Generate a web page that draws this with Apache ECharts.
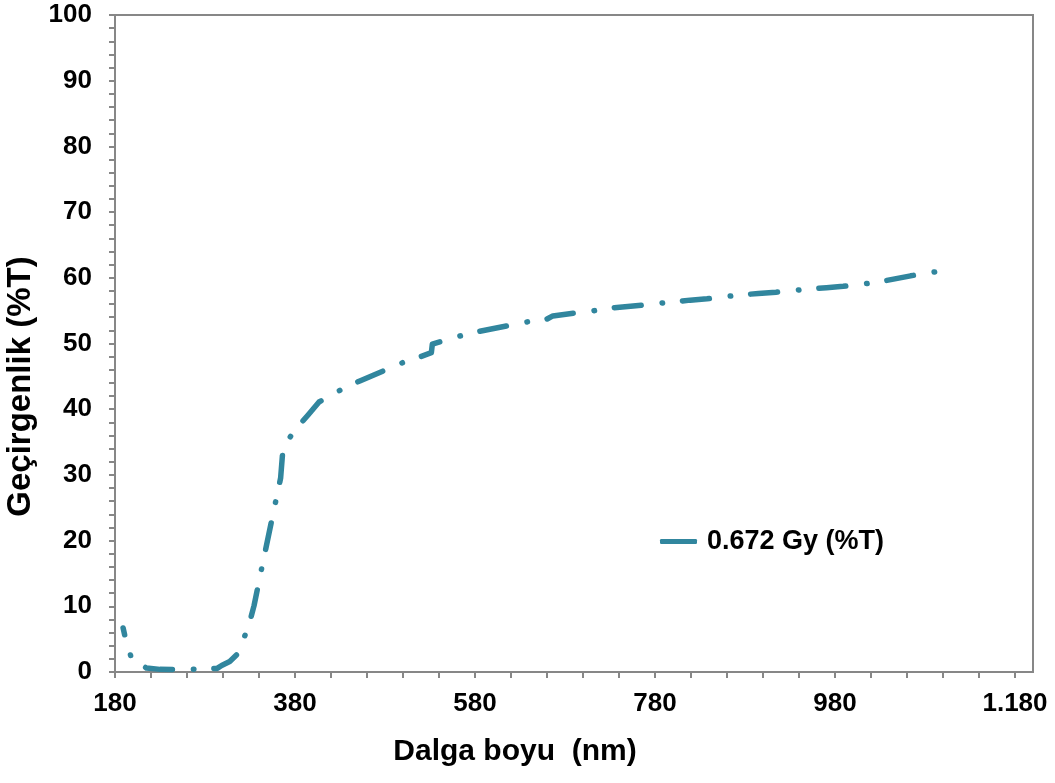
<!DOCTYPE html>
<html>
<head>
<meta charset="utf-8">
<script src="https://cdn.jsdelivr.net/npm/echarts@6/dist/echarts.min.js"></script>
<style>
html,body{margin:0;padding:0;background:#fff;}
#c{width:1055px;height:783px;}
</style>
</head>
<body>
<div id="c"></div>
<script>
// Wavelength (nm)
const wavelength = [189, 192, 198.5, 215, 230, 253, 273, 293.5, 298.5, 307.5, 315, 320.5, 328.5, 334.5, 343, 354, 364, 365.7, 366.8, 381.7, 395, 406.7, 437, 452, 484.5, 501.5, 519.5, 531.5, 532.6, 546.3, 564.8, 583.2, 619.5, 638.7, 658.4, 666.5, 694.2, 712.7, 732.4, 799, 819, 837.8, 874.8, 894.8, 914.4, 950.6, 970.6, 989.1, 1026, 1045, 1064, 1100];
// Transmittance (%T)
const transmittance = [6.7, 4.9, 2.0, 0.6, 0.4, 0.35, 0.45, 0.55, 1.0, 1.6, 2.6, 4.2, 7.0, 10.1, 15.8, 23.0, 29.5, 32.4, 34.3, 37.1, 39.2, 41.1, 43.4, 44.3, 46.2, 47.2, 48.0, 48.6, 49.9, 50.5, 51.2, 51.8, 52.8, 53.3, 53.6, 54.2, 54.7, 55.0, 55.4, 56.3, 56.6, 56.8, 57.4, 57.6, 57.8, 58.3, 58.5, 58.7, 59.3, 59.8, 60.3, 61.1];
const seriesName = '0.672 Gy (%T)';
const xLabelValues = [180, 380, 580, 780, 980, 1180];
const xTickValues = [180, 220, 260, 300, 340, 380, 420, 460, 500, 540, 580, 620, 660, 700, 740, 780, 820, 860, 900, 940, 980, 1020, 1060, 1100, 1140, 1180];
const xTitle = 'Dalga boyu  (nm)';
const yTitle = 'Geçirgenlik (%T)';

const color = '#31869E';
const axisGray = '#878787';
const font = 'Liberation Sans, Arial, sans-serif';

const chart = echarts.init(document.getElementById('c'), null, {renderer: 'canvas'});
chart.setOption({
  animation: false,
  backgroundColor: '#fff',
  grid: {left: 115, top: 15, width: 918, height: 657, outerBoundsMode: 'none', containLabel: false,
    show: true, borderColor: axisGray, borderWidth: 2, backgroundColor: 'transparent'},
  legend: {
    data: [seriesName],
    left: 655, top: 523,
    icon: 'roundRect', itemWidth: 37, itemHeight: 5,
    textStyle: {fontFamily: font, fontWeight: 'bold', fontSize: 27, color: '#000', padding: [0, 0, 0, 5]},
    itemStyle: {color: color}
  },
  xAxis: {
    type: 'value', min: 180, max: 1200,
    name: xTitle, nameLocation: 'middle', nameGap: 65,
    nameTextStyle: {fontFamily: font, fontWeight: 'bold', fontSize: 30, color: '#000', padding: [0, 118, 0, 0]},
    axisLine: {show: true, lineStyle: {color: axisGray, width: 2}},
    axisTick: {show: true, inside: false, length: 6, lineStyle: {color: axisGray, width: 2}, customValues: xTickValues},
    axisLabel: {customValues: xLabelValues, margin: 19, fontFamily: font, fontWeight: 'bold', fontSize: 26, color: '#000',
      formatter: v => String(v).replace(/(\d)(\d{3})$/, '$1.$2')},
    splitLine: {show: false}
  },
  yAxis: {
    type: 'value', min: 0, max: 100, interval: 10,
    name: yTitle, nameLocation: 'middle', nameGap: 69, nameRotate: 90,
    nameTextStyle: {fontFamily: font, fontWeight: 'bold', fontSize: 33, color: '#000', padding: [0, 86, 0, 0]},
    axisLine: {show: true, lineStyle: {color: axisGray, width: 2}},
    axisTick: {show: true, inside: false, length: 6, lineStyle: {color: axisGray, width: 2}},
    minorTick: {show: true, splitNumber: 5, length: 6, lineStyle: {color: axisGray, width: 2}},
    axisLabel: {margin: 23, fontFamily: font, fontWeight: 'bold', fontSize: 26, color: '#000'},
    splitLine: {show: false}
  },
  series: [{
    name: seriesName,
    type: 'line',
    data: wavelength.map((w, i) => [w, transmittance[i]]),
    showSymbol: false,
    symbol: 'none',
    color: color,
    lineStyle: {color: color, width: 5.5, type: [27, 21, 0.5, 20], cap: 'round', join: 'round', dashOffset: 20}
  }]
});
</script>
</body>
</html>
